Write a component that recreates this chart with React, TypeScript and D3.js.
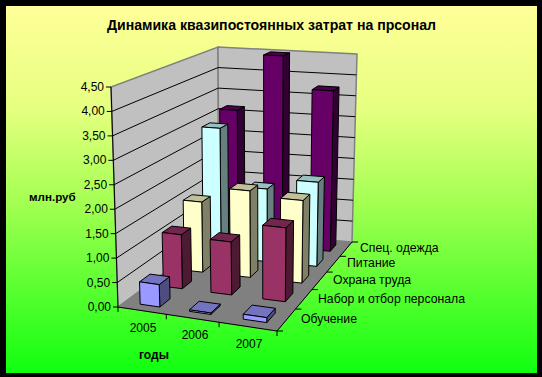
import React from "react";
import * as d3 from "d3";

const title = "Динамика квазипостоянных затрат на прсонал";
const years = ["2005", "2006", "2007"];
const seriesNames = ["Обучение", "Набор и отбор персонала", "Охрана труда", "Питание", "Спец. одежда"];
const obuchenie = [0.46, 0.03, 0.1];
const nabor = [1.15, 1.12, 1.55];
const ohrana = [1.55, 1.9, 1.8];
const pitanie = [2.95, 1.65, 1.9];
const odezhda = [3.15, 4.5, 3.75];
const seriesValues = [obuchenie, nabor, ohrana, pitanie, odezhda];
const ticks = [0, 0.5, 1, 1.5, 2, 2.5, 3, 3.5, 4, 4.5];

// face colours: front, top, side
const palette = [
  ["#9999ff", "#7373c0", "#4d4d80"],
  ["#993366", "#73264d", "#4d1a33"],
  ["#ffffcc", "#c0c099", "#808066"],
  ["#ccffff", "#99c0c0", "#668080"],
  ["#660066", "#4d004d", "#330033"],
];

type P = [number, number];
function homography(a: P, b: P, c: P, d: P) {
  // maps (0,0)->a (1,0)->b (1,1)->c (0,1)->d
  const dx1 = b[0] - c[0], dx2 = d[0] - c[0], sx = a[0] - b[0] + c[0] - d[0];
  const dy1 = b[1] - c[1], dy2 = d[1] - c[1], sy = a[1] - b[1] + c[1] - d[1];
  const den = dx1 * dy2 - dx2 * dy1;
  const g = (sx * dy2 - dx2 * sy) / den;
  const h = (dx1 * sy - sx * dy1) / den;
  const A = b[0] - a[0] + g * b[0], B = d[0] - a[0] + h * d[0];
  const D = b[1] - a[1] + g * b[1], E = d[1] - a[1] + h * d[1];
  return (u: number, v: number): P => {
    const w = g * u + h * v + 1;
    return [(A * u + B * v + a[0]) / w, (D * u + E * v + a[1]) / w];
  };
}

const floorAt = homography([118, 307], [277, 331], [352, 242], [219, 232]);
const topAt = homography([111, 87], [278, 105], [357, 54], [218, 47]);

const xS = d3.scaleLinear().domain([0, years.length]).range([0, 1]);
const yS = d3.scaleLinear().domain([0, seriesNames.length]).range([0, 1]);
const zS = d3.scaleLinear().domain([0, 4.5]).range([0, 1]);

function pt(x: number, y: number, z: number): P {
  const f = floorAt(xS(x), yS(y));
  const t = topAt(xS(x), yS(y));
  const k = zS(z);
  return [f[0] + (t[0] - f[0]) * k, f[1] + (t[1] - f[1]) * k];
}

const closed = d3.line<P>().curve(d3.curveLinearClosed);
const open = d3.line<P>();
const BAR_X0 = 0.33, BAR_X1 = 0.74, BAR_Y0 = 0.27, BAR_Y1 = 0.71;

function Bar({ col, row, value }: { col: number; row: number; value: number }) {
  const x0 = col + BAR_X0, x1 = col + BAR_X1, y0 = row + BAR_Y0, y1 = row + BAR_Y1;
  const c = palette[row];
  const s = { stroke: "#000", strokeWidth: 1, strokeLinejoin: "round" as const };
  return (
    <g>
      <path d={closed([pt(x1, y0, 0), pt(x1, y1, 0), pt(x1, y1, value), pt(x1, y0, value)])!} fill={c[2]} {...s} />
      <path d={closed([pt(x0, y0, value), pt(x1, y0, value), pt(x1, y1, value), pt(x0, y1, value)])!} fill={c[1]} {...s} />
      <path d={closed([pt(x0, y0, 0), pt(x1, y0, 0), pt(x1, y0, value), pt(x0, y0, value)])!} fill={c[0]} {...s} />
    </g>
  );
}

const txt = { fontFamily: "'Liberation Sans', Arial, sans-serif", fill: "#000" };
const catPos: P[] = [[143, 332], [195, 339], [249, 348]];
const serPos: P[] = [[301, 323], [318, 303], [333, 284], [347, 267], [360, 252]];

export default function App() {
  const order: { col: number; row: number; value: number }[] = [];
  for (let r = seriesNames.length - 1; r >= 0; r--) {
    years.forEach((_, c) => order.push({ col: c, row: r, value: seriesValues[r][c] }));
  }
  const nx = years.length, ny = seriesNames.length, zMax = 4.5;
  return (
    <svg width={542} height={377} style={{ position: "absolute", left: 0, top: 0 }}>
      <defs>
        <linearGradient id="bg" x1="0" y1="0" x2="0" y2="1">
          <stop offset="0" stopColor="#ffff99" />
          <stop offset="0.28" stopColor="#e6ff80" />
          <stop offset="0.55" stopColor="#a0ff50" />
          <stop offset="1" stopColor="#10ff10" />
        </linearGradient>
      </defs>
      <rect x={0} y={0} width={542} height={377} fill="#000" />
      <rect x={6} y={6} width={531} height={367} fill="url(#bg)" />

      <path d={closed([pt(0, 0, 0), pt(0, ny, 0), pt(0, ny, zMax), pt(0, 0, zMax)])!} fill="#c0c0c0" stroke="#808080" strokeWidth={1.5} />
      <path d={closed([pt(0, ny, 0), pt(nx, ny, 0), pt(nx, ny, zMax), pt(0, ny, zMax)])!} fill="#c0c0c0" stroke="#808080" strokeWidth={1.5} />
      <path d={closed([pt(0, 0, 0), pt(nx, 0, 0), pt(nx, ny, 0), pt(0, ny, 0)])!} fill="#808080" stroke="#808080" />

      {ticks.slice(1, -1).map((t) => (
        <path key={t} d={open([pt(0, 0, t), pt(0, ny, t), pt(nx, ny, t)])!} fill="none" stroke="#000" strokeWidth={1} />
      ))}

      <path d={open([pt(0, 0, zMax), pt(0, 0, 0), pt(nx, 0, 0), pt(nx, ny, 0)])!} fill="none" stroke="#000" strokeWidth={1} />
      {ticks.map((t) => {
        const p = pt(0, 0, t);
        return (
          <g key={t}>
            <line x1={p[0] - 5} x2={p[0]} y1={p[1]} y2={p[1]} stroke="#000" />
            <text x={p[0] - 7} y={p[1] + 4} textAnchor="end" fontSize={12} {...txt}>
              {t.toFixed(2).replace(".", ",")}
            </text>
          </g>
        );
      })}
      {d3.range(nx + 1).map((c) => {
        const p = pt(c, 0, 0);
        return <line key={c} x1={p[0]} x2={p[0]} y1={p[1]} y2={p[1] + 5} stroke="#000" />;
      })}
      {d3.range(ny + 1).map((r) => {
        const p = pt(nx, r, 0);
        return <line key={r} x1={p[0]} x2={p[0] + 6} y1={p[1]} y2={p[1]} stroke="#000" />;
      })}

      {order.map((b) => (
        <Bar key={`${b.row}-${b.col}`} {...b} />
      ))}

      <text x={271.5} y={30} textAnchor="middle" fontSize={14.1} fontWeight="bold" {...txt}>{title}</text>
      <text x={29} y={201} fontSize={11.6} fontWeight="bold" {...txt}>млн.руб</text>
      <text x={139} y={359} fontSize={12} fontWeight="bold" {...txt}>годы</text>
      {years.map((y, i) => (
        <text key={y} x={catPos[i][0]} y={catPos[i][1]} textAnchor="middle" fontSize={12} {...txt}>{y}</text>
      ))}
      {seriesNames.map((s, i) => (
        <text key={s} x={serPos[i][0]} y={serPos[i][1]} fontSize={12.25} {...txt}>{s}</text>
      ))}
    </svg>
  );
}
